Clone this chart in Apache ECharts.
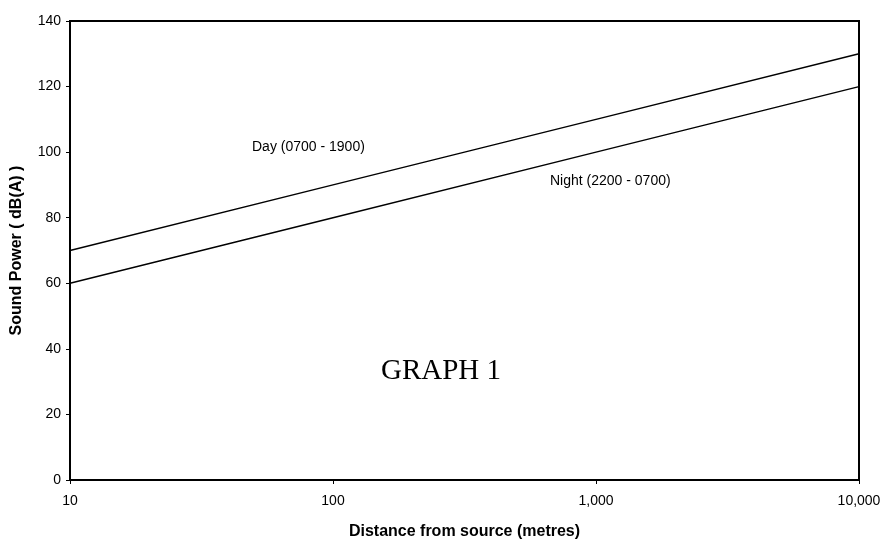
<!DOCTYPE html>
<html>
<head>
<meta charset="utf-8">
<script src="https://cdn.jsdelivr.net/npm/echarts@6/dist/echarts.min.js"></script>
<style>
html, body { margin: 0; padding: 0; background: #fff; }
#chart { width: 883px; height: 539px; }
</style>
</head>
<body>
<div id="chart"></div>
<script>
// distances in metres (log axis)
var distances = [10, 100, 1000, 10000];
var dayLevels = [70, 90, 110, 130];
var nightLevels = [60, 80, 100, 120];
var yTicks = [0, 20, 40, 60, 80, 100, 120, 140];

function pairs(xs, ys) {
	var out = [];
	for (var i = 0; i < xs.length; i++) {
		out.push([xs[i], ys[i]]);
	}
	return out;
}

function fmtThousands(v) {
	return String(Math.round(v)).replace(/\B(?=(\d{3})+(?!\d))/g, ',');
}

var myChart = echarts.init(document.getElementById('chart'));
var option = {
	animation: false,
	backgroundColor: '#fff',
	grid: {
		left: 70,
		right: 24,
		top: 21,
		bottom: 59,
		containLabel: false,
		outerBoundsMode: 'none',
		show: true,
		borderColor: '#000',
		borderWidth: 2
	},
	xAxis: {
		type: 'log',
		logBase: 10,
		min: 10,
		max: 10000,
		name: 'Distance from source (metres)',
		nameLocation: 'middle',
		nameGap: 44,
		nameTextStyle: { fontFamily: 'Liberation Sans, Arial', fontWeight: 'bold', fontSize: 16, color: '#000' },
		axisLine: { lineStyle: { color: '#000', width: 2 } },
		axisTick: { show: true, length: 4, lineStyle: { color: '#000' } },
		minorTick: { show: false },
		splitLine: { show: false },
		axisLabel: {
			margin: 14,
			fontFamily: 'Liberation Sans, Arial',
			fontSize: 14,
			color: '#000',
			formatter: function(v) { return fmtThousands(v); }
		}
	},
	yAxis: {
		type: 'value',
		min: yTicks[0],
		max: yTicks[yTicks.length - 1],
		interval: 20,
		name: 'Sound Power ( dB(A) )',
		nameLocation: 'middle',
		nameGap: 45,
		nameRotate: 90,
		nameTextStyle: { fontFamily: 'Liberation Sans, Arial', fontWeight: 'bold', fontSize: 16, color: '#000' },
		axisLine: { show: true, lineStyle: { color: '#000', width: 2 } },
		axisTick: { show: true, length: 4, lineStyle: { color: '#000' } },
		splitLine: { show: false },
		axisLabel: { margin: 9, fontFamily: 'Liberation Sans, Arial', fontSize: 14, color: '#000' }
	},
	series: [{
		name: 'Day (0700 - 1900)',
		type: 'line',
		symbol: 'none',
		lineStyle: { color: '#000', width: 1.4 },
		data: pairs(distances, dayLevels)
	}, {
		name: 'Night (2200 - 0700)',
		type: 'line',
		symbol: 'none',
		lineStyle: { color: '#000', width: 1.4 },
		data: pairs(distances, nightLevels)
	}],
	graphic: [{
		type: 'text',
		left: 252,
		top: 140,
		style: { text: 'Day (0700 - 1900)', font: '14px "Liberation Sans", Arial', fill: '#000' }
	}, {
		type: 'text',
		left: 550,
		top: 174,
		style: { text: 'Night (2200 - 0700)', font: '14px "Liberation Sans", Arial', fill: '#000' }
	}, {
		type: 'text',
		left: 381,
		top: 357,
		style: { text: 'GRAPH 1', font: '29px "Liberation Serif", "Times New Roman", serif', fill: '#000' }
	}]
};
myChart.setOption(option);
</script>
</body>
</html>
